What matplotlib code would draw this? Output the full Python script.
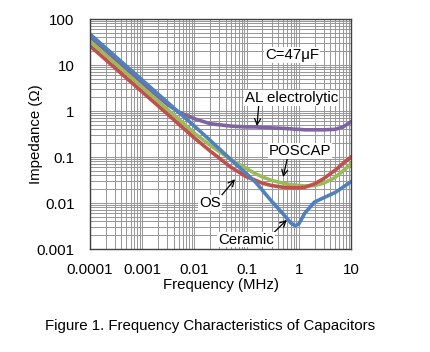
import matplotlib
matplotlib.use("Agg")
import matplotlib.pyplot as plt

plt.rcParams["font.family"] = ["Liberation Sans", "DejaVu Sans"]

# Frequency (MHz) and impedance (ohm)
freq = [0.0001, 0.001, 0.003, 0.005, 0.01, 0.02, 0.05, 0.1, 0.15, 0.2, 0.3,
        0.5, 0.7, 0.85, 1, 1.3, 2, 3, 5, 7, 10]

al_z = [40, 4.0, 1.4, 0.95, 0.68, 0.53, 0.47, 0.45, 0.45, 0.44, 0.43,
        0.42, 0.41, 0.40, 0.40, 0.39, 0.39, 0.39, 0.40, 0.45, 0.58]
poscap_z = [33, 3.3, 1.1, 0.66, 0.33, 0.18, 0.088, 0.056, 0.043, 0.037, 0.031,
            0.027, 0.025, 0.0245, 0.024, 0.0235, 0.024, 0.027, 0.036, 0.050, 0.070]
os_z = [26, 2.6, 0.87, 0.52, 0.26, 0.135, 0.06, 0.037, 0.031, 0.027, 0.024,
        0.022, 0.0215, 0.0214, 0.0214, 0.022, 0.026, 0.034, 0.052, 0.072, 0.10]
ceramic_z = [47, 4.7, 1.57, 0.94, 0.47, 0.23, 0.088, 0.043, 0.028, 0.019, 0.011,
             0.0058, 0.0037, 0.0032, 0.0035, 0.006, 0.0105, 0.013, 0.017, 0.022, 0.029]

fs = 10.8

fig = plt.figure(figsize=(4.30, 3.52), dpi=100)
ax = fig.add_axes([0.2093, 0.2926, 0.607, 0.6534])

ax.plot(freq, al_z, color="#8064A2", lw=2.6)
ax.plot(freq, poscap_z, color="#9BBB59", lw=2.6)
ax.plot(freq, os_z, color="#C0504D", lw=2.6)
ax.plot(freq, ceramic_z, color="#4F81BD", lw=2.6)

ax.set_xscale("log")
ax.set_yscale("log")
ax.set_xlim(0.0001, 10)
ax.set_ylim(0.001, 100)

ax.set_xticks([0.0001, 0.001, 0.01, 0.1, 1, 10])
ax.set_xticklabels(["0.0001", "0.001", "0.01", "0.1", "1", "10"])
ax.set_yticks([0.001, 0.01, 0.1, 1, 10, 100])
ax.set_yticklabels(["0.001", "0.01", "0.1", "1", "10", "100"])
ax.tick_params(which="both", length=0, labelsize=fs)
ax.tick_params(axis="y", pad=11)
ax.tick_params(axis="x", pad=10)

ax.grid(True, which="major", color="#999999", lw=0.75)
ax.grid(True, which="minor", color="#999999", lw=0.75)
ax.set_axisbelow(True)
for s in ax.spines.values():
    s.set_color("#404040")
    s.set_linewidth(1.0)

ax.set_xlabel("Frequency (MHz)", fontsize=fs)
ax.set_ylabel("Impedance (Ω)", fontsize=fs)
ax.xaxis.set_label_coords(0.5, -0.126)
ax.yaxis.set_label_coords(-0.18, 0.5)

box = dict(facecolor="white", edgecolor="none", pad=0.5)
ax.text(0.74, 16.5, "C=47μF", fontsize=fs, ha="center", va="center", bbox=box)

arrow = dict(arrowstyle="->", color="black", lw=0.9)
ax.annotate("AL electrolytic", xy=(0.158, 0.47), xytext=(0.72, 1.9),
            fontsize=fs, ha="center", va="center", bbox=box,
            arrowprops=dict(arrow, shrinkA=0, shrinkB=0, relpos=(0.15, 0.0)))
ax.annotate("POSCAP", xy=(0.50, 0.0367), xytext=(1.05, 0.135),
            fontsize=fs, ha="center", va="center", bbox=box,
            arrowprops=dict(arrow, shrinkA=0, shrinkB=0, relpos=(0.3, 0.0)))
ax.annotate("OS", xy=(0.060, 0.033), xytext=(0.02, 0.01),
            fontsize=fs, ha="center", va="center", bbox=box,
            arrowprops=dict(arrow, shrinkA=0, shrinkB=0, relpos=(1.0, 1.0)))
ax.annotate("Ceramic", xy=(0.59, 0.0043), xytext=(0.097, 0.0016),
            fontsize=fs, ha="center", va="center", bbox=box,
            arrowprops=dict(arrow, shrinkA=0, shrinkB=0, relpos=(1.0, 1.0)))

fig.text(0.488, 1 - 326 / 352, "Figure 1. Frequency Characteristics of Capacitors",
         fontsize=fs, ha="center", va="center")

fig.savefig("out.png", dpi=100)
